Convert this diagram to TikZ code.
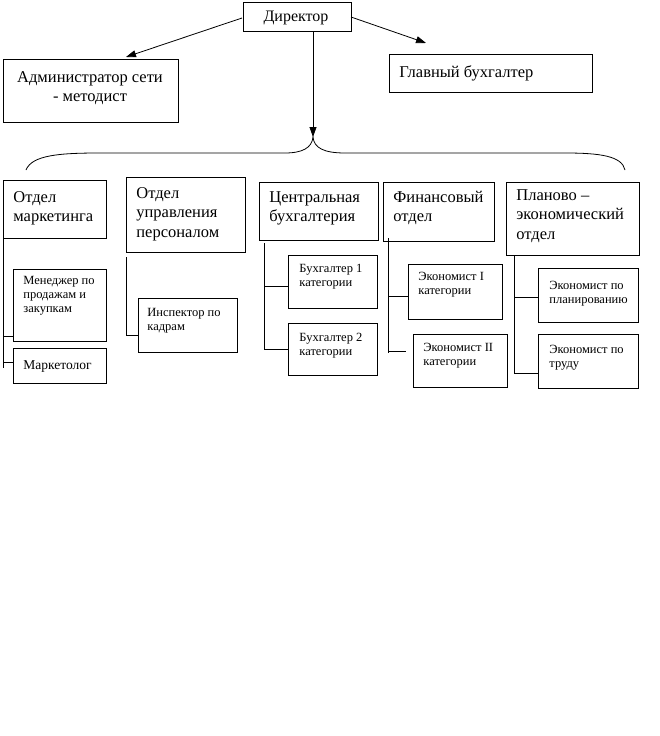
\documentclass[tikz,border=0pt]{standalone}
\usepackage{fontspec}
\setmainfont{Liberation Serif}
\usetikzlibrary{arrows.meta}
\begin{document}
\begin{tikzpicture}[x=1pt,y=-1pt,
  line width=0.8pt,
  box/.style={draw, inner sep=0pt, anchor=north west},
  bigt/.style={font=\fontsize{16.5}{19.5}\selectfont, inner sep=0pt, align=left, anchor=north west},
  bigc/.style={font=\fontsize{16.5}{19.5}\selectfont, inner sep=0pt, align=center, anchor=north},
  smallt/.style={font=\fontsize{12.5}{14}\selectfont, inner sep=0pt, align=left, anchor=north west},
  conn/.style={line width=0.8pt},
  arr/.style={-{Triangle[length=10pt,width=7pt]}}]
\useasboundingbox[fill=white] (0,0) rectangle (659,736);

% top level
\node[box, minimum width=108pt, minimum height=29pt] (dir) at (243,2) {};
\node[font=\fontsize{16}{19}\selectfont, inner sep=0pt, anchor=base] (dirt) at (296,21) {Директор};

\node[box, minimum width=175pt, minimum height=63pt] (adm) at (3,59) {};
\node[bigc] (admt) at (90,68.4) {\strut Администратор сети\\- методист};

\node[box, minimum width=203pt, minimum height=38pt] (gb) at (389,54) {};
\node[font=\fontsize{16.5}{19.5}\selectfont, inner sep=0pt, anchor=base west] (gbt) at (399,77) {Главный бухгалтер};

\coordinate (admtip) at (126,57);
\coordinate (gbtip) at (426,43);
\coordinate (dirL) at (242,18);
\coordinate (dirR) at (351,17);
\coordinate (dirD) at (313,31);
\coordinate (btip) at (313,137);
\draw[arr] (dirL) -- (admtip);
\draw[arr] (dirR) -- (gbtip);
\draw[arr] (dirD) -- (btip);

% brace
\coordinate (bL) at (26,170);
\coordinate (bR) at (625,170);
\draw (bL) .. controls (32,155) and (60,153) .. (100,153) -- (285,153)
      .. controls (302,153) and (312,148) .. (btip)
      .. controls (314,148) and (324,153) .. (345,153) -- (565,153)
      .. controls (600,153) and (622,156) .. (bR);

% departments
\node[box, minimum width=103pt, minimum height=58pt] (mark) at (3,180) {};
\node[bigt] (markt) at (13,188.4) {\strut Отдел\\маркетинга};

\node[box, minimum width=119pt, minimum height=75pt] (pers) at (126,177) {};
\node[bigt] (perst) at (136,184.4) {\strut Отдел\\управления\\персоналом};

\node[box, minimum width=119pt, minimum height=58pt] (cb) at (259,182) {};
\node[bigt] (cbt) at (269,188.4) {\strut Центральная\\бухгалтерия};

\node[box, minimum width=111pt, minimum height=59pt] (fin) at (383,182) {};
\node[bigt] (fint) at (393,188.4) {\strut Финансовый\\отдел};

\node[box, minimum width=133pt, minimum height=73pt] (plan) at (506,182) {};
\node[bigt] (plant) at (516,186.4) {\strut Планово –\\экономический\\отдел};

% sub units
\node[box, minimum width=93pt, minimum height=72pt] (men) at (13,269) {};
\node[smallt] (ment) at (23,274.2) {\strut Менеджер по\\продажам и\\закупкам};

\node[box, minimum width=93pt, minimum height=35pt] (mkt) at (13,348) {};
\node[font=\fontsize{13.5}{16}\selectfont, inner sep=0pt, anchor=base west] (mktt) at (23,369) {Маркетолог};

\node[box, minimum width=99pt, minimum height=54pt] (insp) at (138,298) {};
\node[smallt] (inspt) at (147,306.2) {\strut Инспектор по\\кадрам};

\node[box, minimum width=89pt, minimum height=53pt] (b1) at (288,255) {};
\node[smallt] (b1t) at (299,262.2) {\strut Бухгалтер 1\\категории};

\node[box, minimum width=89pt, minimum height=52pt] (b2) at (288,323) {};
\node[smallt] (b2t) at (299,331.2) {\strut Бухгалтер 2\\категории};

\node[box, minimum width=94pt, minimum height=55pt] (e1) at (408,264) {};
\node[smallt] (e1t) at (418,270.2) {\strut Экономист I\\категории};

\node[box, minimum width=94pt, minimum height=53pt] (e2) at (413,334) {};
\node[smallt] (e2t) at (423,341.2) {\strut Экономист II\\категории};

\node[box, minimum width=100pt, minimum height=54pt] (ep) at (538,268) {};
\node[smallt] (ept) at (549,279.2) {\strut Экономист по\\планированию};

\node[box, minimum width=100pt, minimum height=54pt] (et) at (538,334) {};
\node[smallt] (ett) at (549,343.2) {\strut Экономист по\\труду};

% connectors: marketing
\coordinate (mkEnd) at (3,368);
\draw[conn] (mark.south west) -- (mkEnd);
\draw[conn] (3,336) -- (men.west |- 0,336);
\draw[conn] (3,362) -- (mkt.west |- 0,362);

% personnel
\coordinate (psTop) at (126,257);
\coordinate (psBot) at (126,335);
\draw[conn] (psTop) -- (psBot) -- (insp.west |- psBot);

% central accounting
\coordinate (cbTop) at (264,243);
\coordinate (cbBot) at (264,349);
\draw[conn] (cbTop) -- (cbBot) -- (b2.west |- cbBot);
\draw[conn] (264,286) -- (b1.west |- 0,286);

% finance
\coordinate (fnTop) at (388,238);
\coordinate (fnBot) at (388,353);
\coordinate (fnTick) at (406,351);
\draw[conn] (fnTop) -- (fnBot);
\draw[conn] (388,296) -- (e1.west |- 0,296);
\draw[conn] (388,351) -- (fnTick);

% planning
\coordinate (plBot) at (514,373);
\draw[conn] (plan.south -| 514,0) -- (plBot) -- (et.west |- plBot);
\draw[conn] (514,297) -- (ep.west |- 0,297);
\end{tikzpicture}
\end{document}
